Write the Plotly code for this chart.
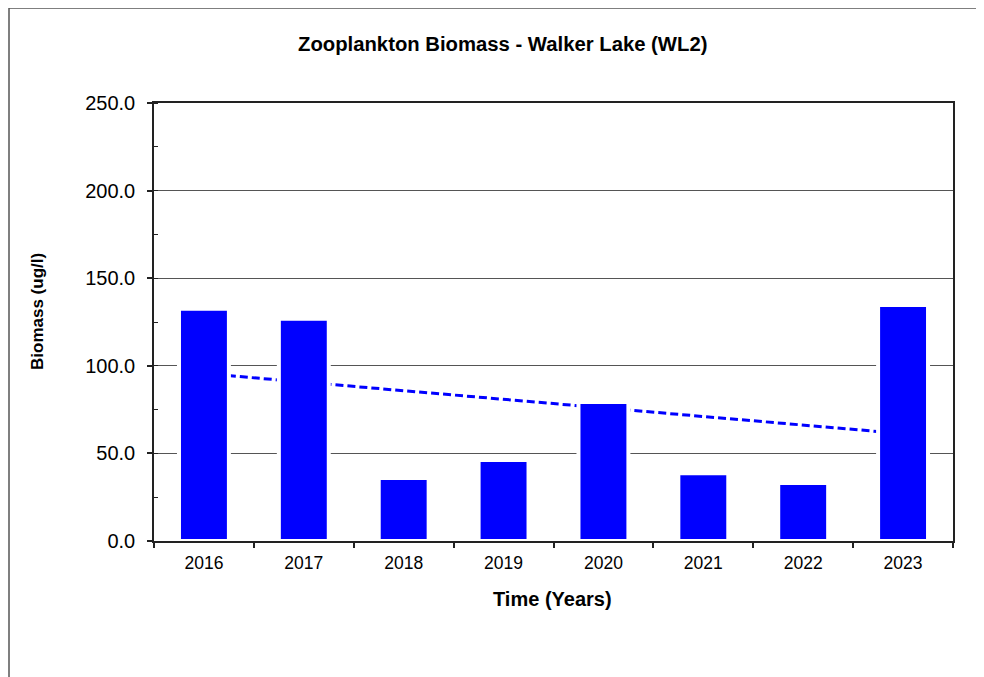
import numpy as np
import plotly.graph_objects as go

years = ["2016", "2017", "2018", "2019", "2020", "2021", "2022", "2023"]
biomass = [132.5, 126.8, 36.0, 46.3, 79.4, 38.6, 33.1, 134.7]
y_ticks = [0, 50, 100, 150, 200, 250]
title = "Zooplankton Biomass - Walker Lake (WL2)"
x_title = "Time (Years)"
y_title = "Biomass (ug/l)"

OFF = 8  # page body margin
W, H = 984 - OFF, 677 - OFF
L, T = 154 - OFF, 103 - OFF
R = W - (953 - OFF)
B = H - (541 - OFF)
pw, ph = W - L - R, H - T - B

# linear trend through the data
xi = np.arange(len(biomass))
slope, intercept = np.polyfit(xi, biomass, 1)
trend_start = float(intercept)
trend_end = float(intercept + slope * xi[-1])

FONT = "Liberation Sans, Arial, sans-serif"

fig = go.Figure()
fig.add_trace(go.Bar(
    x=years, y=biomass,
    marker=dict(color="#0000ff", line=dict(color="white", width=4)),
    width=0.5,
    showlegend=False,
))

fig.add_shape(type="line", xref="x", yref="y",
              x0=int(xi[0]), x1=int(xi[-1]), y0=trend_start, y1=trend_end,
              line=dict(color="#0000ff", width=3, dash="8px,4px"),
              layer="between")

def px2paper_x(px):
    return (px - OFF - L) / pw

def px2paper_y(py):
    return 1 - (py - OFF - T) / ph

# outer frame
fig.add_shape(type="rect", xref="paper", yref="paper",
              x0=px2paper_x(9), x1=px2paper_x(1010),
              y0=px2paper_y(700), y1=px2paper_y(8),
              line=dict(color="#555555", width=1.5), fillcolor="rgba(0,0,0,0)",
              layer="below")

fig.add_annotation(text="<b>" + title + "</b>", xref="paper", yref="paper",
                   x=px2paper_x(502), y=px2paper_y(44), showarrow=False,
                   xanchor="center", yanchor="middle",
                   font=dict(family=FONT, size=20.3, color="black"))
fig.add_annotation(text="<b>" + x_title + "</b>", xref="paper", yref="paper",
                   x=px2paper_x(552), y=px2paper_y(599), showarrow=False,
                   xanchor="center", yanchor="middle",
                   font=dict(family=FONT, size=20, color="black"))
fig.add_annotation(text="<b>" + y_title + "</b>", xref="paper", yref="paper",
                   x=px2paper_x(37), y=px2paper_y(312), showarrow=False,
                   textangle=-90, xanchor="center", yanchor="middle",
                   font=dict(family=FONT, size=17, color="black"))

fig.update_layout(
    width=W, height=H,
    margin=dict(l=L, r=R, t=T, b=B, autoexpand=False),
    paper_bgcolor="white", plot_bgcolor="white",
    font=dict(family=FONT, color="black"),
    bargap=0.5,
)

fig.update_xaxes(
    type="category", tickson="boundaries",
    ticks="outside", ticklen=5, tickwidth=1.5, tickcolor="#222222",
    showline=True, linecolor="#222222", linewidth=1.5, mirror=True,
    showgrid=False, zeroline=False, tickangle=0,
    ticklabelstandoff=5,
    tickfont=dict(family=FONT, size=17.5, color="black"),
)
fig.update_yaxes(
    range=[0, 250], tickvals=y_ticks, tickformat=".1f",
    ticks="outside", ticklen=5, tickwidth=1.5, tickcolor="#222222",
    showline=True, linecolor="#222222", linewidth=1.5, mirror=True,
    showgrid=True, gridcolor="#555555", gridwidth=1,
    zeroline=False, ticklabelstandoff=8,
    minor=dict(dtick=25, ticks="inside", ticklen=4, tickwidth=1.2,
               tickcolor="#222222", showgrid=False),
    tickfont=dict(family=FONT, size=20, color="black"),
)

fig.write_html("out.html")
